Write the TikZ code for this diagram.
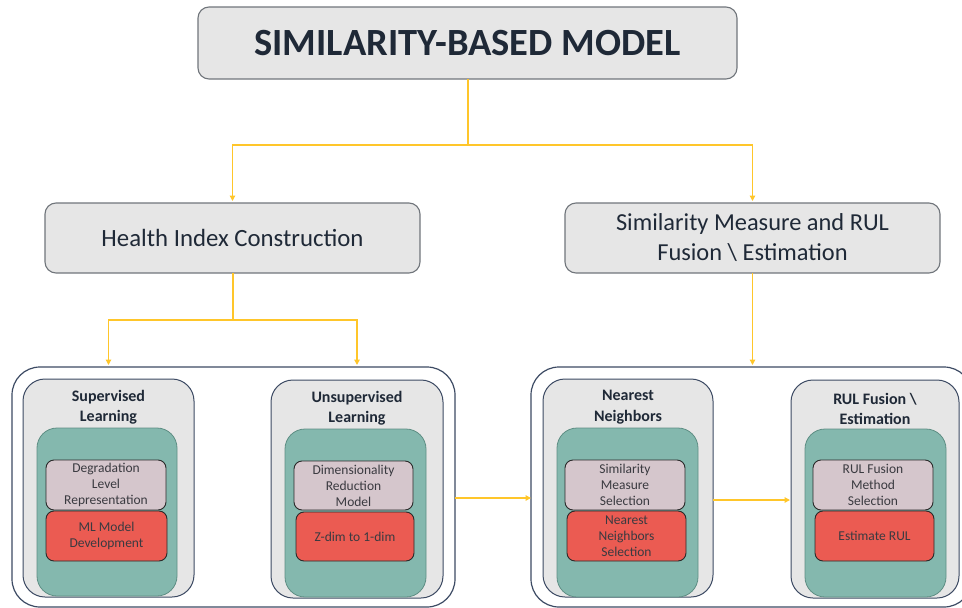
\documentclass[tikz,border=0pt]{standalone}
\usepackage{fontspec}
\setmainfont{Carlito}
\usetikzlibrary{arrows.meta,calc}

\definecolor{boxfill}{HTML}{E6E6E6}
\definecolor{boxline}{HTML}{70757B}
\definecolor{groupline}{HTML}{3C4A63}
\definecolor{tealfill}{HTML}{84B8AE}
\definecolor{tealline}{HTML}{5E8E84}
\definecolor{lilacfill}{HTML}{D5C6CC}
\definecolor{redfill}{HTML}{EB5B52}
\definecolor{innerline}{HTML}{2A2A2A}
\definecolor{gold}{HTML}{FFC62A}
\definecolor{darktext}{HTML}{1F2937}
\definecolor{softtext}{HTML}{3A3A40}

\tikzset{
  px/.style={x=1pt,y=-1pt},
  sized/.style 2 args={minimum width=#1pt,minimum height=#2pt,inner sep=0pt,outer sep=0pt},
  headbox/.style={draw=boxline,fill=boxfill,line width=1.1pt,rounded corners=11pt,align=center,
    text=darktext},
  groupbox/.style={draw=groupline,line width=1.2pt,rounded corners=28pt},
  methodbox/.style={draw=groupline,fill=boxfill,line width=1pt,rounded corners=22pt},
  corebox/.style={draw=tealline,fill=tealfill,line width=0.8pt,rounded corners=20pt},
  stepbox/.style={draw=innerline,line width=0.9pt,rounded corners=8pt,align=center,text=softtext,
    font=\fontsize{13.5}{16}\selectfont},
  titletext/.style={align=center,text=darktext,font=\fontsize{16}{20.5}\selectfont\bfseries},
  conn/.style={draw=gold,line width=1.3pt},
  arr/.style={conn,-{Triangle[length=5.5pt,width=5.5pt]}},
}

\begin{document}
\begin{tikzpicture}[px]
\useasboundingbox (0,0) rectangle (962,608);
\clip (0,0) rectangle (962,608);

% top level
\node[headbox,sized={539}{72},font=\fontsize{38.5}{44}\selectfont\bfseries] (top) at (467.5,43)
  {SIMILARITY-BASED MODEL};
\node[headbox,sized={375}{70},font=\fontsize{24.8}{29}\selectfont] (hi) at (232.5,238)
  {Health Index Construction};
\node[headbox,sized={375}{70},font=\fontsize{24.4}{30}\selectfont] (sm) at (752.5,238)
  {Similarity Measure and RUL\\Fusion \textbackslash\ Estimation};

% group containers
\node[groupbox,sized={443}{240}] (gl) at (233.5,487) {};
\node[groupbox,sized={441}{240}] (gr) at (751.5,487) {};

% supervised learning
\node[methodbox,sized={171}{218}] (sup) at (108.5,488) {};
\node[titletext] (supt) at (108.5,407) {Supervised\\Learning};
\node[corebox,sized={140}{168}] (supc) at (107,512) {};
\node[stepbox,fill=lilacfill,sized={120}{50}] (supa) at (106,485) {Degradation\\Level\\Representation};
\node[stepbox,fill=redfill,sized={121}{50}] (supb) at (106.5,536) {ML Model\\Development};

% unsupervised learning
\node[methodbox,sized={172}{218}] (uns) at (357,489) {};
\node[titletext] (unst) at (357,408) {Unsupervised\\Learning};
\node[corebox,sized={141}{168}] (unsc) at (355.5,513) {};
\node[stepbox,fill=lilacfill,sized={119}{49}] (unsa) at (353.5,485.5) {Dimensionality\\Reduction\\Model};
\node[stepbox,fill=redfill,sized={118}{49}] (unsb) at (355,536.5) {Z-dim to 1-dim};

% nearest neighbors
\node[methodbox,sized={170}{218}] (nn) at (628,488) {};
\node[titletext] (nnt) at (628,407) {Nearest\\Neighbors};
\node[corebox,sized={141}{169}] (nnc) at (627.5,512.5) {};
\node[stepbox,fill=lilacfill,sized={120}{50}] (nna) at (625,485) {Similarity\\Measure\\Selection};
\node[stepbox,fill=redfill,sized={119}{50}] (nnb) at (626.5,536) {Nearest\\Neighbors\\Selection};

% RUL fusion / estimation
\node[methodbox,sized={168}{218}] (rul) at (875,489) {};
\node[titletext] (rult) at (875,409) {RUL Fusion \textbackslash\\Estimation};
\node[corebox,sized={141}{168}] (rulc) at (875.5,513) {};
\node[stepbox,fill=lilacfill,sized={120}{50}] (rula) at (873,485) {RUL Fusion\\Method\\Selection};
\node[stepbox,fill=redfill,sized={119}{50}] (rulb) at (874.5,536) {Estimate RUL};

% connectors
\coordinate (j1) at (468,145);
\draw[conn] (top.south -| j1) -- (j1);
\draw[arr] (j1) -| ([yshift=2pt]hi.north);
\draw[arr] (j1) -| ([yshift=2pt]sm.north);

\coordinate (j2) at (233,320);
\draw[conn] (hi.south -| j2) -- (j2);
\draw[arr] (j2) -| ([yshift=2pt]gl.north -| sup.north);
\draw[arr] (j2) -| ([yshift=2pt]gl.north -| uns.north);

\draw[arr] (sm.south) -- ([yshift=2pt]gr.north -| sm.south);

\draw[arr] ([yshift=-11pt]gl.east) -- ([yshift=-11pt]gl.east -| gr.west);
\draw[arr] ([yshift=-12pt]nn.east) -- ([yshift=-12pt,xshift=-1pt]nn.east -| rul.west);
\end{tikzpicture}
\end{document}
